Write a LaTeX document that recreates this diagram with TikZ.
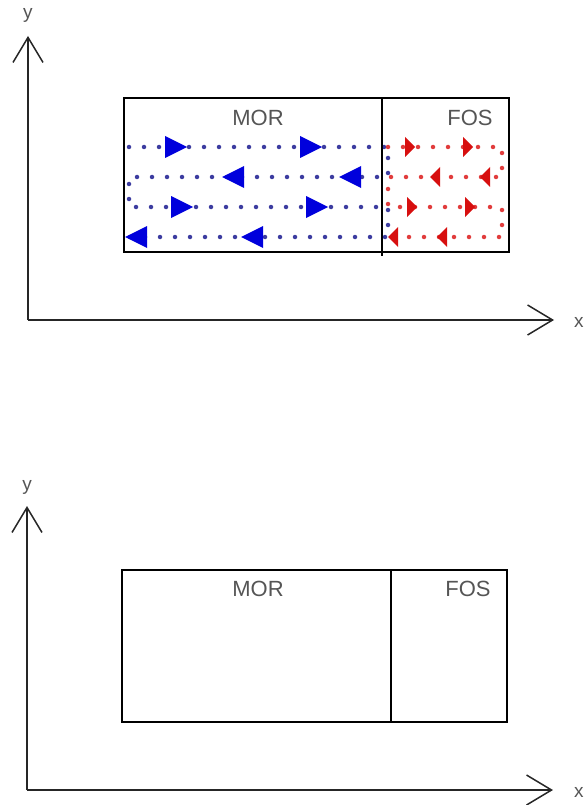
\documentclass[tikz,border=0pt]{standalone}
\usepackage{fontspec}
\setmainfont{Liberation Sans}
\usetikzlibrary{arrows.meta}
\definecolor{dotblue}{RGB}{60,60,160}
\definecolor{arrblue}{RGB}{0,0,220}
\definecolor{dotred}{RGB}{225,60,60}
\definecolor{arrred}{RGB}{215,15,15}
\definecolor{txtgray}{RGB}{85,85,85}
\begin{document}
\begin{tikzpicture}[x=1pt,y=-1pt,
  boxnode/.style={draw=black, line width=1.3pt, rectangle, inner sep=0pt},
  divider/.style={draw=black, line width=1.3pt},
  lbl/.style={text=txtgray, font=\fontsize{22}{26}\selectfont, inner sep=0pt},
  axlbl/.style={text=txtgray, font=\fontsize{19}{22}\selectfont, inner sep=0pt},
  axis/.style={draw=black!85, line width=1.5pt, -{Straight Barb[length=25pt,width=30pt,line width=1.5pt]}},
  bdots/.style={draw=dotblue, line width=4.5pt, line cap=round, dash pattern=on 0pt off 15pt},
  rdots/.style={draw=dotred, line width=4.5pt, line cap=round, dash pattern=on 0pt off 15pt},
  bR/.pic={\fill[arrblue] (-11,-11) -- (11,0) -- (-11,11) -- cycle;},
  bL/.pic={\fill[arrblue] (11,-11) -- (-11,0) -- (11,11) -- cycle;},
  rR/.pic={\fill[arrred] (-5,-10) -- (5,0) -- (-5,10) -- cycle;},
  rL/.pic={\fill[arrred] (5,-10) -- (-5,0) -- (5,10) -- cycle;}
]
\useasboundingbox (0,0) rectangle (585,805);

% ---------- top diagram ----------
% serpentine paths
\draw[bdots] (129,147) -- (388,147) -- (388,177) -- (129,177) -- (129,207) -- (388,207) -- (388,237) -- (129,237);
\draw[rdots] (388,147) -- (502,147) -- (502,177) -- (388,177) -- (388,207) -- (502,207) -- (502,237) -- (388,237);
% arrowheads
\pic at (176,147) {bR}; \pic at (311,147) {bR};
\pic at (233,177) {bL}; \pic at (350,177) {bL};
\pic at (182,207) {bR}; \pic at (317,207) {bR};
\pic at (136,237) {bL}; \pic at (252,237) {bL};
\pic at (410,147) {rR}; \pic at (468,147) {rR};
\pic at (435,177) {rL}; \pic at (485,177) {rL};
\pic at (412,207) {rR}; \pic at (470,207) {rR};
\pic at (393,237) {rL}; \pic at (442,237) {rL};

\node[boxnode, minimum width=385pt, minimum height=154pt] (box1) at (316.5,175) {};
\coordinate (d1) at (382,0);
\draw[divider] (box1.north -| d1) -- ([yshift=-3pt]box1.south -| d1);
\node[lbl] (mor1) at (258,118) {MOR};
\node[lbl] (fos1) at (470,118) {FOS};

\coordinate (o1) at (28,320);
\coordinate (yt1) at (28,36);
\coordinate (xt1) at (554,320);
\draw[axis] (o1) -- (yt1);
\draw[axis] (o1) -- (xt1);
\node[axlbl] (ylab1) at (28,15) {y};
\node[axlbl, anchor=west] (xlab1) at (574,322) {x};

% ---------- bottom diagram ----------
\node[boxnode, minimum width=385pt, minimum height=152pt] (box2) at (314.5,646) {};
\coordinate (d2) at (391,0);
\draw[divider] (box2.north -| d2) -- (box2.south -| d2);
\node[lbl] (mor2) at (258,589) {MOR};
\node[lbl] (fos2) at (468,589) {FOS};

\coordinate (o2) at (27,790);
\coordinate (yt2) at (27,506);
\coordinate (xt2) at (553,790);
\draw[axis] (o2) -- (yt2);
\draw[axis] (o2) -- (xt2);
\node[axlbl] (ylab2) at (27,487) {y};
\node[axlbl, anchor=west] (xlab2) at (574,792) {x};
\end{tikzpicture}
\end{document}
